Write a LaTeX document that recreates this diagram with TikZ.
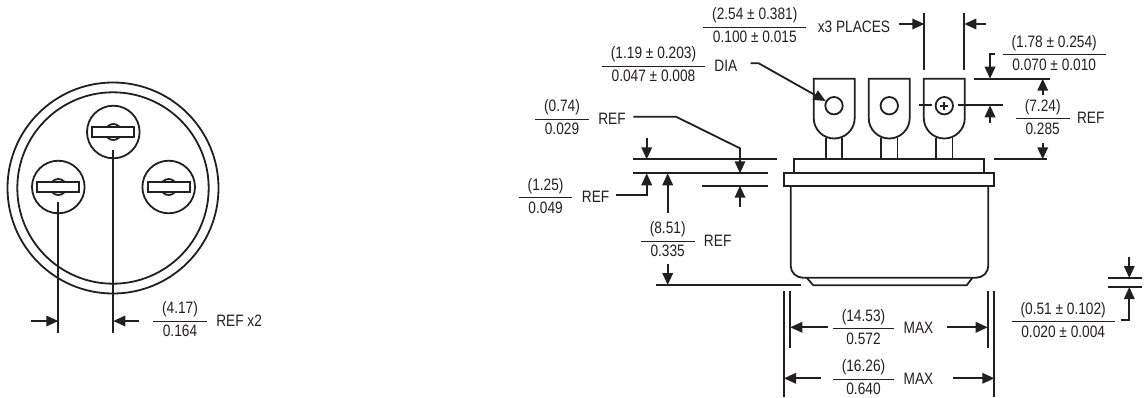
\documentclass[tikz,border=0pt]{standalone}
\usepackage{fontspec}
\setmainfont[FakeStretch=0.83]{Liberation Sans}
\usetikzlibrary{positioning,shapes,arrows.meta}
\definecolor{ink}{HTML}{231F20}
\newcommand{\dimfrac}[2]{%
  \setlength{\arrayrulewidth}{1pt}\renewcommand{\arraystretch}{1.1}%
  \begin{tabular}{@{\hspace{9pt}}c@{\hspace{9pt}}}#1\\\hline #2\end{tabular}}

\begin{document}
\begin{tikzpicture}[
    x=1pt, y=-1pt,
    outline/.style={draw=ink, line width=1.8pt},
    extline/.style={outline},
    dim/.style={outline, -{Triangle[length=12pt,width=10.5pt]}},
    label/.style={inner sep=0pt, text=ink, font=\fontsize{16.5}{20}\selectfont},
    ring/.style={circle, outline, inner sep=0pt},
    pin/.style={ring, minimum size=52.6pt},
    boss/.style={ring, minimum size=16pt},
    slot/.style={outline, fill=white, inner sep=0pt, minimum width=42pt, minimum height=10pt},
    hole/.style={ring, fill=white, minimum size=17.4pt},
  ]
    \useasboundingbox (0,0) rectangle (1146,397);

    % bottom view
    \node[ring, minimum size=211pt](rimouter) at (113,188) {};
    \node[ring, minimum size=191.4pt](riminner) at (113,188) {};
    \node[pin](pintop) at (113.3,132) {};
    \node[boss] at (113.3,132) {};
    \node[slot] at (113.3,132) {};
    \node[pin](pinleft) at (58.3,187) {};
    \node[boss] at (58.3,187) {};
    \node[slot] at (58.3,187) {};
    \node[pin](pinright) at (168.7,187) {};
    \node[boss] at (168.7,187) {};
    \node[slot] at (168.7,187) {};

    \coordinate (leftlead) at (58.3,202);
    \coordinate (leftleadend) at (58.3,333);
    \coordinate (toplead) at (113.3,150);
    \coordinate (topleadend) at (113.3,333);
    \coordinate (pitchlefttip) at (58.3,321);
    \coordinate (pitchlefttail) at (31,321);
    \coordinate (pitchrighttip) at (113.3,321);
    \coordinate (pitchrighttail) at (139,321);
    \draw[extline] (leftlead) -- (leftleadend);
    \draw[extline] (toplead) -- (topleadend);
    \draw[dim] (pitchlefttail) -- (pitchlefttip);
    \draw[dim] (pitchrighttail) -- (pitchrighttip);
    \node[label](pitch) at (180,321) {\dimfrac{(4.17)}{0.164}};
    \node[label, right=9pt of pitch.east](pitchref) {REF x2};

    % side view, terminals
    \draw[outline] (813.7,78.7) -- (854.7,78.7) -- (854.7,118) arc[start angle=0, end angle=180, radius=20.5] -- cycle;
    \draw[outline] (868.7,78.7) -- (909.7,78.7) -- (909.7,118) arc[start angle=0, end angle=180, radius=20.5] -- cycle;
    \draw[outline] (923.8,78.7) -- (964.8,78.7) -- (964.8,118) arc[start angle=0, end angle=180, radius=20.5] -- cycle;
    \node[hole](holeone) at (834,105.7) {};
    \node[hole](holetwo) at (889.3,105.7) {};
    \node[hole](holethree) at (944.3,105.7) {};
    \draw[outline] ([xshift=-4pt]holethree.center) -- ([xshift=4pt]holethree.center);
    \draw[outline] ([yshift=-4pt]holethree.center) -- ([yshift=4pt]holethree.center);
    \draw[outline] (826,138) -- (826,159.3) (842.3,138) -- (842.3,159.3);
    \draw[outline] (881.2,138) -- (881.2,159.3) (897.5,138) -- (897.5,159.3);
    \draw[outline] (936.2,138) -- (936.2,159.3) (952.5,138) -- (952.5,159.3);

    % side view, case
    \draw[outline] (794,172.7) -- (794,159.3) -- (984.3,159.3) -- (984.3,172.7);
    \draw[outline] (784,172.7) rectangle (994.3,186);
    \draw[outline, rounded corners=12pt] (790.7,186) -- (790.7,277.7) -- (988.3,277.7) -- (988.3,186);
    \draw[outline] (806.7,277.7) -- (813.3,285.3) -- (966.7,285.3) -- (972.5,277.7);

    % top dimensions
    \coordinate (spanleft) at (924.3,13);
    \coordinate (spanleftend) at (924.3,70);
    \coordinate (spanright) at (964.3,13);
    \coordinate (spanrightend) at (964.3,70);
    \coordinate (spanlefttip) at (924.3,24);
    \coordinate (spanlefttail) at (898.7,24);
    \coordinate (spanrighttip) at (964.3,24);
    \coordinate (spanrighttail) at (985.7,24);
    \draw[extline] (spanleft) -- (spanleftend);
    \draw[extline] (spanright) -- (spanrightend);
    \node[label](tabwidth) at (754.8,27) {\dimfrac{(2.54 ± 0.381)}{0.100 ± 0.015}};
    \node[label, right=11pt of tabwidth.east](places) {x3 PLACES};
    \draw[dim] (spanlefttail) -- (spanlefttip);
    \draw[dim] (spanrighttail) -- (spanrighttip);

    \node[label](holedia) at (653.5,66) {\dimfrac{(1.19 ± 0.203)}{0.047 ± 0.008}};
    \node[label, right=9pt of holedia.east](dia) {DIA};
    \coordinate (diastart) at (750.7,63.3);
    \coordinate (diabend) at (758.7,63.3);
    \draw[dim] (diastart) -- (diabend) -- (holeone);

    % right dimensions
    \coordinate (topedge) at (974,78.7);
    \coordinate (topedgeend) at (1050,78.7);
    \coordinate (holeedge) at (958,105.3);
    \coordinate (holeedgeend) at (1003.3,105.3);
    \coordinate (holedash) at (919.3,105.3);
    \coordinate (holedashend) at (932,105.3);
    \coordinate (flangeedge) at (994,159.3);
    \coordinate (flangeedgeend) at (1047.3,159.3);
    \draw[extline] (topedge) -- (topedgeend);
    \draw[extline] (holeedge) -- (holeedgeend);
    \draw[extline] (holedash) -- (holedashend);
    \draw[extline] (flangeedge) -- (flangeedgeend);

    \node[label](tabhole) at (1054.2,54.7) {\dimfrac{(1.78 ± 0.254)}{0.070 ± 0.010}};
    \coordinate (tabholestart) at (995,54);
    \coordinate (tabholebend) at (990,54);
    \coordinate (tabholetip) at (990,78.7);
    \coordinate (tabholeup) at (990,105.3);
    \coordinate (tabholetail) at (990,122.7);
    \draw[dim] (tabholestart) -- (tabholebend) -- (tabholetip);
    \draw[dim] (tabholetail) -- (tabholeup);

    \node[label](tabheight) at (1042.7,118.3) {\dimfrac{(7.24)}{0.285}};
    \node[label, right=7pt of tabheight.east](tabheightref) {REF};
    \coordinate (heightuptip) at (1042.7,78.7);
    \coordinate (heightuptail) at (1042.7,95);
    \coordinate (heightdowntip) at (1042.7,159.3);
    \coordinate (heightdowntail) at (1042.7,142.7);
    \draw[dim] (heightuptail) -- (heightuptip);
    \draw[dim] (heightdowntail) -- (heightdowntip);

    % left dimensions
    \coordinate (leftupper) at (633.3,159.3);
    \coordinate (leftupperend) at (776.7,159.3);
    \coordinate (leftmiddle) at (633.3,173.3);
    \coordinate (leftmiddleend) at (767.7,173.3);
    \coordinate (leftlower) at (702.3,185.7);
    \coordinate (leftlowerend) at (767.7,185.7);
    \coordinate (leftbottom) at (655.7,285);
    \coordinate (leftbottomend) at (801,285);
    \draw[extline] (leftupper) -- (leftupperend);
    \draw[extline] (leftmiddle) -- (leftmiddleend);
    \draw[extline] (leftlower) -- (leftlowerend);
    \draw[extline] (leftbottom) -- (leftbottomend);

    \node[label](flangelow) at (562,119) {\dimfrac{(0.74)}{0.029}};
    \node[label, right=9pt of flangelow.east](flangelowref) {REF};
    \coordinate (flangelowstart) at (633.3,116.7);
    \coordinate (flangelowbend) at (676,116.7);
    \coordinate (flangelowdrop) at (740,148.3);
    \coordinate (flangelowtip) at (740,173.3);
    \coordinate (flangelowuptail) at (740,207.3);
    \coordinate (flangelowup) at (740,185.7);
    \draw[dim] (flangelowstart) -- (flangelowbend) -- (flangelowdrop) -- (flangelowtip);
    \draw[dim] (flangelowuptail) -- (flangelowup);

    \node[label](flangeup) at (545.6,197.3) {\dimfrac{(1.25)}{0.049}};
    \node[label, right=9pt of flangeup.east](flangeupref) {REF};
    \coordinate (flangeupstart) at (616,195);
    \coordinate (flangeupbend) at (646.7,195);
    \coordinate (flangeuptip) at (646.7,173.3);
    \coordinate (flangeuptail) at (646.7,137.7);
    \coordinate (flangeupdown) at (646.7,159.3);
    \draw[dim] (flangeupstart) -- (flangeupbend) -- (flangeuptip);
    \draw[dim] (flangeuptail) -- (flangeupdown);

    \node[label](caseheight) at (667.7,241) {\dimfrac{(8.51)}{0.335}};
    \node[label, right=9pt of caseheight.east](caseheightref) {REF};
    \coordinate (caseuptip) at (667.7,173.3);
    \coordinate (caseuptail) at (667.7,213.3);
    \coordinate (casedowntip) at (667.7,285);
    \coordinate (casedowntail) at (667.7,264);
    \draw[dim] (caseuptail) -- (caseuptip);
    \draw[dim] (casedowntail) -- (casedowntip);

    % bottom dimensions
    \coordinate (outerleft) at (784,290.7);
    \coordinate (outerleftend) at (784,396.7);
    \coordinate (outerright) at (994.3,290.7);
    \coordinate (outerrightend) at (994.3,396.7);
    \coordinate (innerleft) at (790.3,290.7);
    \coordinate (innerleftend) at (790.3,347.7);
    \coordinate (innerright) at (987.7,290.7);
    \coordinate (innerrightend) at (987.7,347.7);
    \draw[extline] (outerleft) -- (outerleftend);
    \draw[extline] (outerright) -- (outerrightend);
    \draw[extline] (innerleft) -- (innerleftend);
    \draw[extline] (innerright) -- (innerrightend);

    \node[label](casewidth) at (863.5,328.3) {\dimfrac{(14.53)}{0.572}};
    \node[label, right=9pt of casewidth.east](casewidthmax) {MAX};
    \coordinate (caselefttip) at (790.3,327.3);
    \coordinate (caselefttail) at (827.5,327.3);
    \coordinate (caserighttip) at (987.7,327.3);
    \coordinate (caserighttail) at (946.7,327.3);
    \draw[dim] (caselefttail) -- (caselefttip);
    \draw[dim] (caserighttail) -- (caserighttip);

    \node[label](flangewidth) at (863.5,379) {\dimfrac{(16.26)}{0.640}};
    \node[label, right=9pt of flangewidth.east](flangewidthmax) {MAX};
    \coordinate (flangelefttip) at (784,378.3);
    \coordinate (flangelefttail) at (820.7,378.3);
    \coordinate (flangerighttip) at (994.3,378.3);
    \coordinate (flangerighttail) at (953.3,378.3);
    \draw[dim] (flangelefttail) -- (flangelefttip);
    \draw[dim] (flangerighttail) -- (flangerighttip);

    \coordinate (bevelupper) at (1108.3,278);
    \coordinate (bevelupperend) at (1141.7,278);
    \coordinate (bevellower) at (1108.3,287);
    \coordinate (bevellowerend) at (1141.7,287);
    \draw[extline] (bevelupper) -- (bevelupperend);
    \draw[extline] (bevellower) -- (bevellowerend);
    \node[label](bevel) at (1063.2,321.3) {\dimfrac{(0.51 ± 0.102)}{0.020 ± 0.004}};
    \coordinate (bevelstart) at (1120.7,320.3);
    \coordinate (bevelbend) at (1129.3,320.3);
    \coordinate (beveluptip) at (1129.3,287);
    \coordinate (beveldowntip) at (1129.3,278);
    \coordinate (beveldowntail) at (1129.3,256.7);
    \draw[dim] (bevelstart) -- (bevelbend) -- (beveluptip);
    \draw[dim] (beveldowntail) -- (beveldowntip);
  \end{tikzpicture}
\end{document}
